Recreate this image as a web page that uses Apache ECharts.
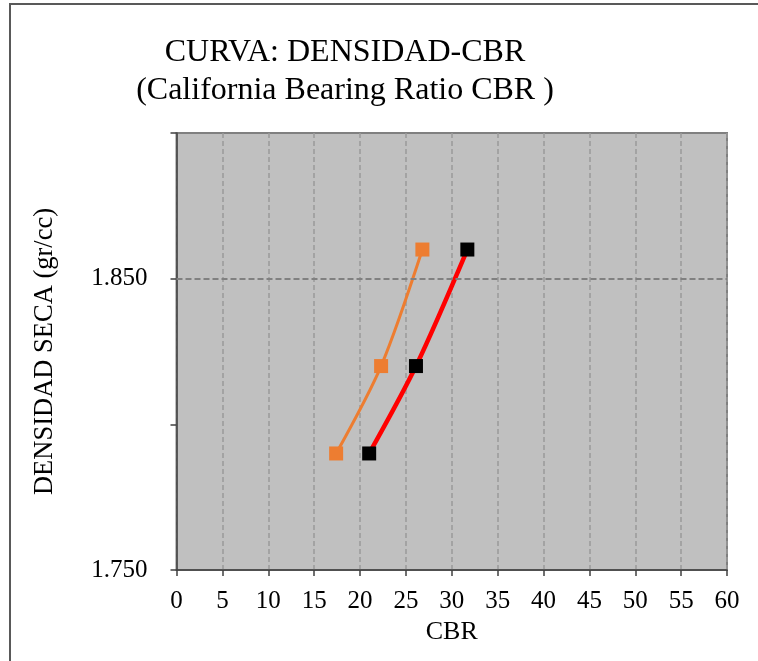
<!DOCTYPE html>
<html>
<head>
<meta charset="utf-8">
<script src="https://cdn.jsdelivr.net/npm/echarts@6/dist/echarts.min.js"></script>
<style>
html,body{margin:0;padding:0;background:#fff;}
#chart{width:758px;height:661px;}
</style>
</head>
<body>
<div id="chart"></div>
<script>
var titleLines = ['CURVA: DENSIDAD-CBR', '(California Bearing Ratio CBR )'];
var xAxisName = 'CBR';
var yAxisName = 'DENSIDAD SECA (gr/cc)';
var yTickLabels = ['1.750', '1.850'];
var cbrRed = [21.0, 26.1, 31.7];
var densRed = [1.790, 1.820, 1.860];
var cbrOrange = [17.4, 22.3, 26.8];
var densOrange = [1.790, 1.820, 1.860];

var FONT = '"Liberation Serif", "Times New Roman", serif';
function pairs(xs, ys){ return xs.map(function(x,i){ return [x, ys[i]]; }); }

var chart = echarts.init(document.getElementById('chart'), null, {renderer:'canvas'});
chart.setOption({
  animation: false,
  backgroundColor: '#ffffff',
  graphic: [{
    type: 'rect', z: -10, silent: true,
    shape: {x: 10, y: 4, width: 800, height: 700},
    style: {fill: 'none', stroke: '#595959', lineWidth: 2}
  }],
  title: {
    text: titleLines.join('\n'),
    left: 340, top: 29, textAlign: 'center',
    textStyle: {fontFamily: FONT, fontSize: 32, fontWeight: 'normal', color: '#000', lineHeight: 38}
  },
  grid: {
    left: 176.5, right: 31, top: 133, bottom: 91,
    show: true, backgroundColor: '#C0C0C0', borderColor: '#808080', borderWidth: 2
  },
  xAxis: {
    type: 'value', min: 0, max: 60, interval: 5,
    name: xAxisName, nameLocation: 'middle', nameGap: 48,
    nameTextStyle: {fontFamily: FONT, fontSize: 26, color: '#000'},
    axisLine: {show: true, onZero: false, lineStyle: {color: '#404040', width: 1.5}},
    axisTick: {show: true, length: 6, lineStyle: {color: '#404040', width: 1.5}},
    axisLabel: {fontFamily: FONT, fontSize: 25, color: '#000', margin: 19},
    splitLine: {show: true, lineStyle: {color: '#999999', width: 1.5, type: [5, 3]}}
  },
  yAxis: {
    type: 'value', min: 1.75, max: 1.9, interval: 0.05,
    name: yAxisName, nameLocation: 'middle', nameGap: 118,
    nameTextStyle: {fontFamily: FONT, fontSize: 26.5, color: '#000'},
    axisLine: {show: true, onZero: false, lineStyle: {color: '#404040', width: 1.5}},
    axisTick: {show: true, length: 6, lineStyle: {color: '#404040', width: 1.5}},
    axisLabel: {
      fontFamily: FONT, fontSize: 25, color: '#000', margin: 29,
      formatter: function(v){
        var s = v.toFixed(3);
        return yTickLabels.indexOf(s) >= 0 ? s : '';
      }
    },
    splitLine: {show: false}
  },
  series: [
    {
      type: 'line', data: [], z: 1, silent: true,
      markLine: {
        silent: true, symbol: ['none', 'none'], label: {show: false},
        lineStyle: {color: '#808080', width: 2, type: [6, 3]},
        data: [{yAxis: 1.85}]
      }
    },
    {
      type: 'line', data: pairs(cbrOrange, densOrange), smooth: 0.3, z: 3,
      symbol: 'rect', symbolSize: 14,
      lineStyle: {color: '#ED7D31', width: 3},
      itemStyle: {color: '#ED7D31'}
    },
    {
      type: 'line', data: pairs(cbrRed, densRed), smooth: 0.3, z: 4,
      symbol: 'rect', symbolSize: 14,
      lineStyle: {color: '#FF0000', width: 4.5},
      itemStyle: {color: '#000000'}
    }
  ]
});
</script>
</body>
</html>
